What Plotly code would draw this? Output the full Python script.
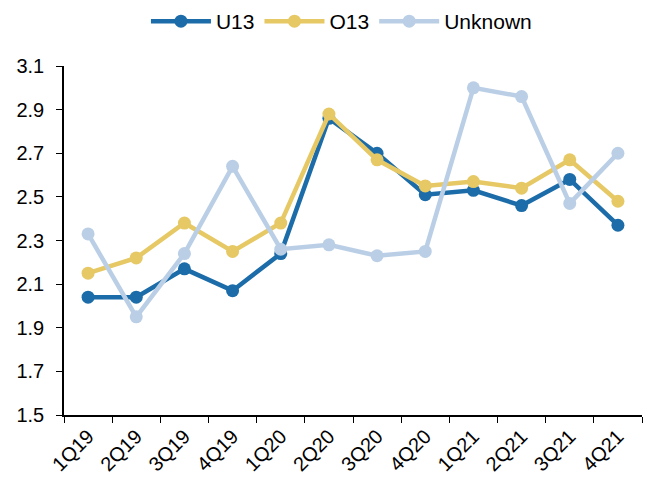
import plotly.graph_objects as go

quarters = ["1Q19", "2Q19", "3Q19", "4Q19", "1Q20", "2Q20",
            "3Q20", "4Q20", "1Q21", "2Q21", "3Q21", "4Q21"]
u13 = [2.04, 2.04, 2.17, 2.07, 2.24, 2.86, 2.70, 2.51, 2.53, 2.46, 2.58, 2.37]
o13 = [2.15, 2.22, 2.38, 2.25, 2.38, 2.88, 2.67, 2.55, 2.57, 2.54, 2.67, 2.48]
unknown = [2.33, 1.95, 2.24, 2.64, 2.26, 2.28, 2.23, 2.25, 3.00, 2.96, 2.47, 2.70]

series = [
    ("U13", u13, "#1B6CA8"),
    ("O13", o13, "#E6C865"),
    ("Unknown", unknown, "#BACFE6"),
]

fig = go.Figure()
for name, vals, color in series:
    fig.add_trace(go.Scatter(
        x=quarters, y=vals, name=name, mode="lines+markers",
        line=dict(color=color, width=4.5),
        marker=dict(color=color, size=13),
    ))

# the page body adds 8px, so margins are shifted to compensate
fig.update_layout(
    width=654, height=482,
    margin=dict(l=56, r=20, t=58, b=75),
    plot_bgcolor="white", paper_bgcolor="white",
    font=dict(family="Liberation Sans, Arial", size=20, color="black"),
    legend=dict(orientation="h", x=0.48, xanchor="center",
                yref="container", y=0.972, yanchor="middle",
                itemwidth=60, font=dict(size=21)),
)
fig.update_xaxes(
    range=[-0.5, len(quarters) - 0.5],
    showline=True, linecolor="black", linewidth=1.5, automargin=False,
    ticks="outside", tickson="boundaries", ticklen=6, tickcolor="black",
    tickangle=-45, showgrid=False,
)
fig.update_yaxes(
    range=[1.5, 3.1], tick0=1.5, dtick=0.2, tickformat=".1f", automargin=False,
    showline=True, linecolor="black", linewidth=1.5, ticklabelstandoff=8,
    ticks="outside", ticklen=6, tickcolor="black", showgrid=False, zeroline=False,
)

fig.write_html("out.html")
